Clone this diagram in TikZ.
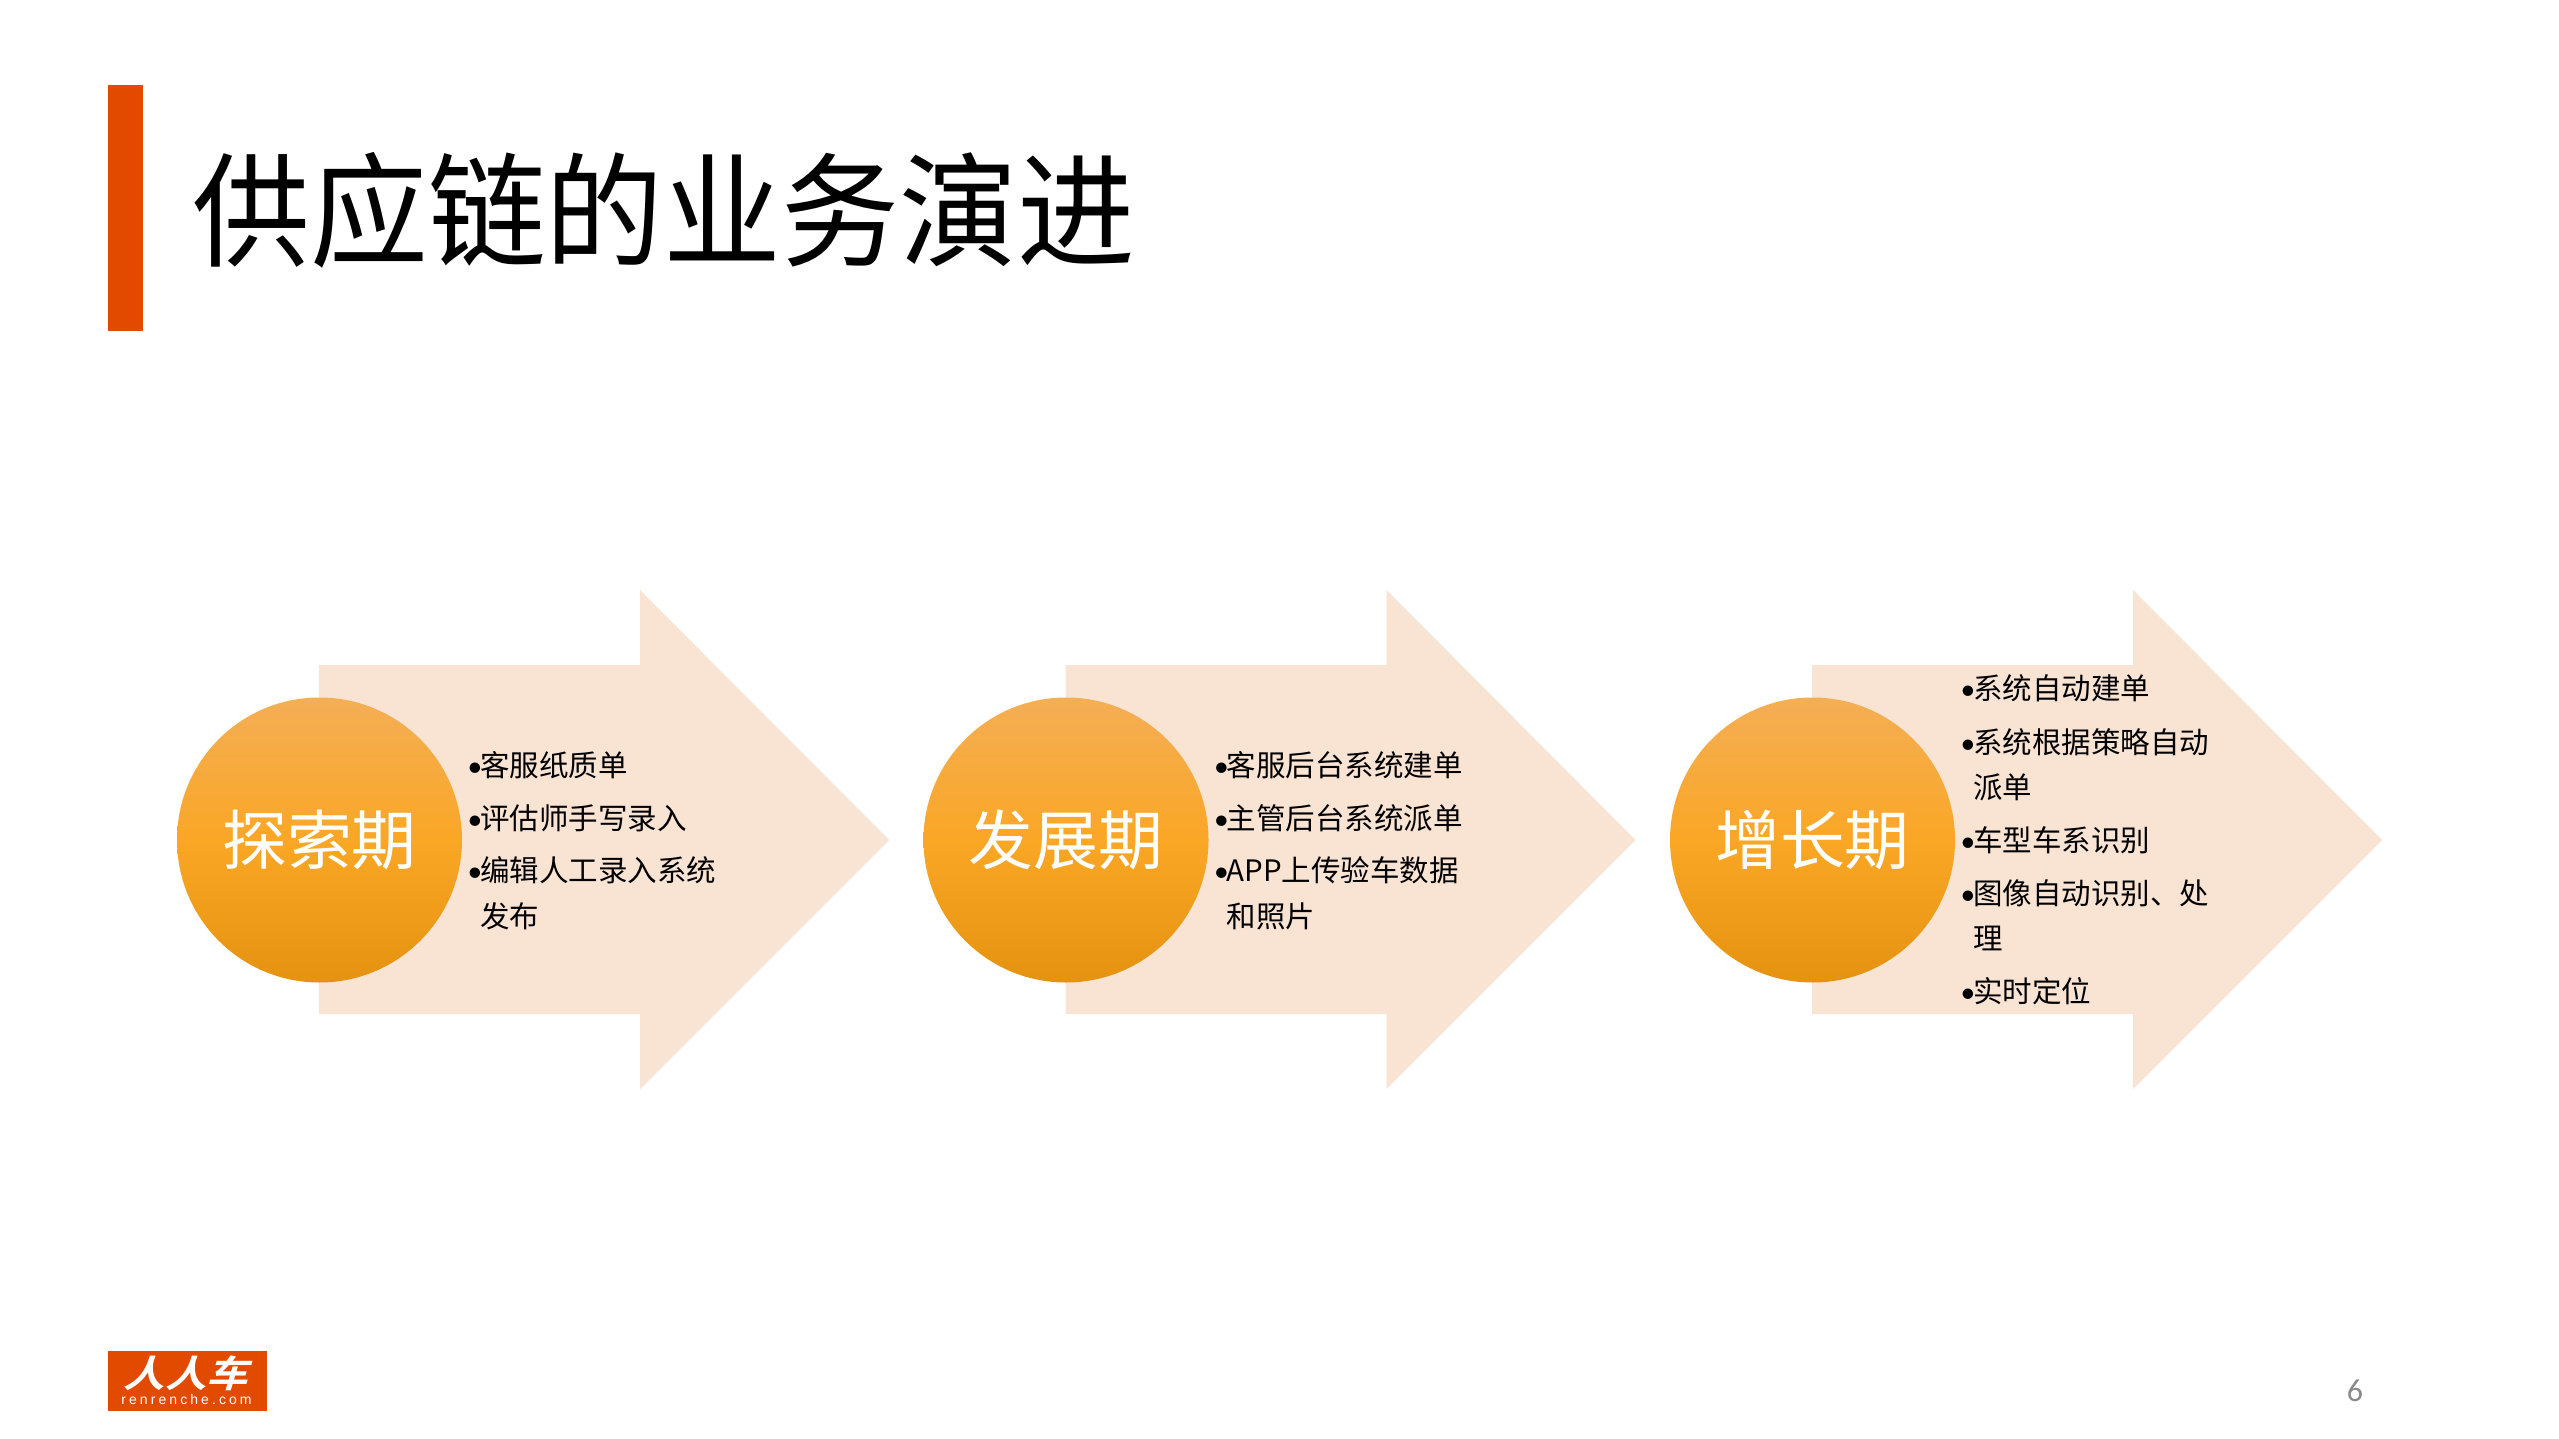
\documentclass[tikz,border=0pt]{standalone}
\usepackage{fontspec}
\setmainfont{Noto Sans CJK SC}
\newfontfamily\latinfont{Carlito}
\newfontfamily\titlefont[FakeStretch=0.95]{Noto Sans CJK SC}
\newfontfamily\logofont[LetterSpace=22]{Liberation Sans}
\newfontfamily\logocnfont[FakeSlant=0.3,FakeStretch=1.12]{Noto Sans CJK SC Bold}
\definecolor{brandorange}{HTML}{E24A00}
\definecolor{arrowfill}{HTML}{F9E3D3}
\definecolor{discA}{HTML}{F4AE55}
\definecolor{discB}{HTML}{FAA726}
\definecolor{discC}{HTML}{E59210}
\definecolor{pagegrey}{HTML}{8A8A8A}
\newcommand{\bul}{\makebox[6.3pt][l]{\latinfont •}}
\newcommand{\bodyfont}{\fontsize{14.75pt}{14.75pt}\selectfont}
\tikzset{
  x=0.5pt,y=-0.5pt,
  arrowshape/.style={fill=arrowfill,draw=none},
  disc/.style={circle,minimum size=142.5pt,inner sep=0pt,draw=none,top color=discA,bottom color=discC,middle color=discB,text=white,font=\fontsize{32.4pt}{32.4pt}\selectfont},
  bodyline/.style={anchor=base west,inner sep=0pt,outer sep=0pt,text=black,font=\bodyfont}
}
\newcommand{\bigarrow}[1]{\fill[arrowshape,shift={(#1,0)}] (319,665) -- (640,665) -- (640,590) -- (889,840) -- (640,1089) -- (640,1014) -- (319,1014) -- cycle;}
\begin{document}
\begin{tikzpicture}
\useasboundingbox (0,0) rectangle (2559,1439);
\fill[white] (0,0) rectangle (2559,1439);
\fill[brandorange] (108,85) rectangle (143,331);
\node[anchor=base west,inner sep=0pt,font=\titlefont\fontsize{62pt}{62pt}\selectfont] (title) at (192,257) {供应链的业务演进};
\bigarrow{0}
\bigarrow{746.5}
\bigarrow{1493}
\node[disc] (d1) at (319.5,840) {探索期};
\node[disc] (d2) at (1066,840) {发展期};
\node[disc] (d3) at (1812.5,840) {增长期};
\node[bodyline] (a1) at (467.5,776) {\bul 客服纸质单};
\node[bodyline] (a2) at (467.5,829) {\bul 评估师手写录入};
\node[bodyline] (a3) at (467.5,881) {\bul 编辑人工录入系统};
\node[bodyline] (a4) at (480,927) {发布};
\node[bodyline] (b1) at (1214,776) {\bul 客服后台系统建单};
\node[bodyline] (b2) at (1214,829) {\bul 主管后台系统派单};
\node[bodyline] (b3) at (1214,881) {\bul APP上传验车数据};
\node[bodyline] (b4) at (1226.5,927) {和照片};
\node[bodyline] (c1) at (1960.5,699) {\bul 系统自动建单};
\node[bodyline] (c2) at (1960.5,753) {\bul 系统根据策略自动};
\node[bodyline] (c3) at (1973,798) {派单};
\node[bodyline] (c4) at (1960.5,851) {\bul 车型车系识别};
\node[bodyline] (c5) at (1960.5,904) {\bul 图像自动识别、处};
\node[bodyline] (c6) at (1973,949) {理};
\node[bodyline] (c7) at (1960.5,1002) {\bul 实时定位};
\fill[brandorange] (108,1351) rectangle (267,1411);
\node[anchor=center,inner sep=0pt,text=white,font=\logofont\fontsize{7pt}{7pt}\selectfont] (logotext) at (186.5,1399) {renrenche.com};
\node[anchor=base,inner sep=0pt,text=white,font=\logocnfont\fontsize{18.5pt}{18.5pt}\selectfont] (logocn) at (186,1387) {人人车};
\node[anchor=center,inner sep=0pt,text=pagegrey,font=\latinfont\fontsize{16pt}{16pt}\selectfont] (pagenum) at (2355,1391) {6};
\end{tikzpicture}
\end{document}
